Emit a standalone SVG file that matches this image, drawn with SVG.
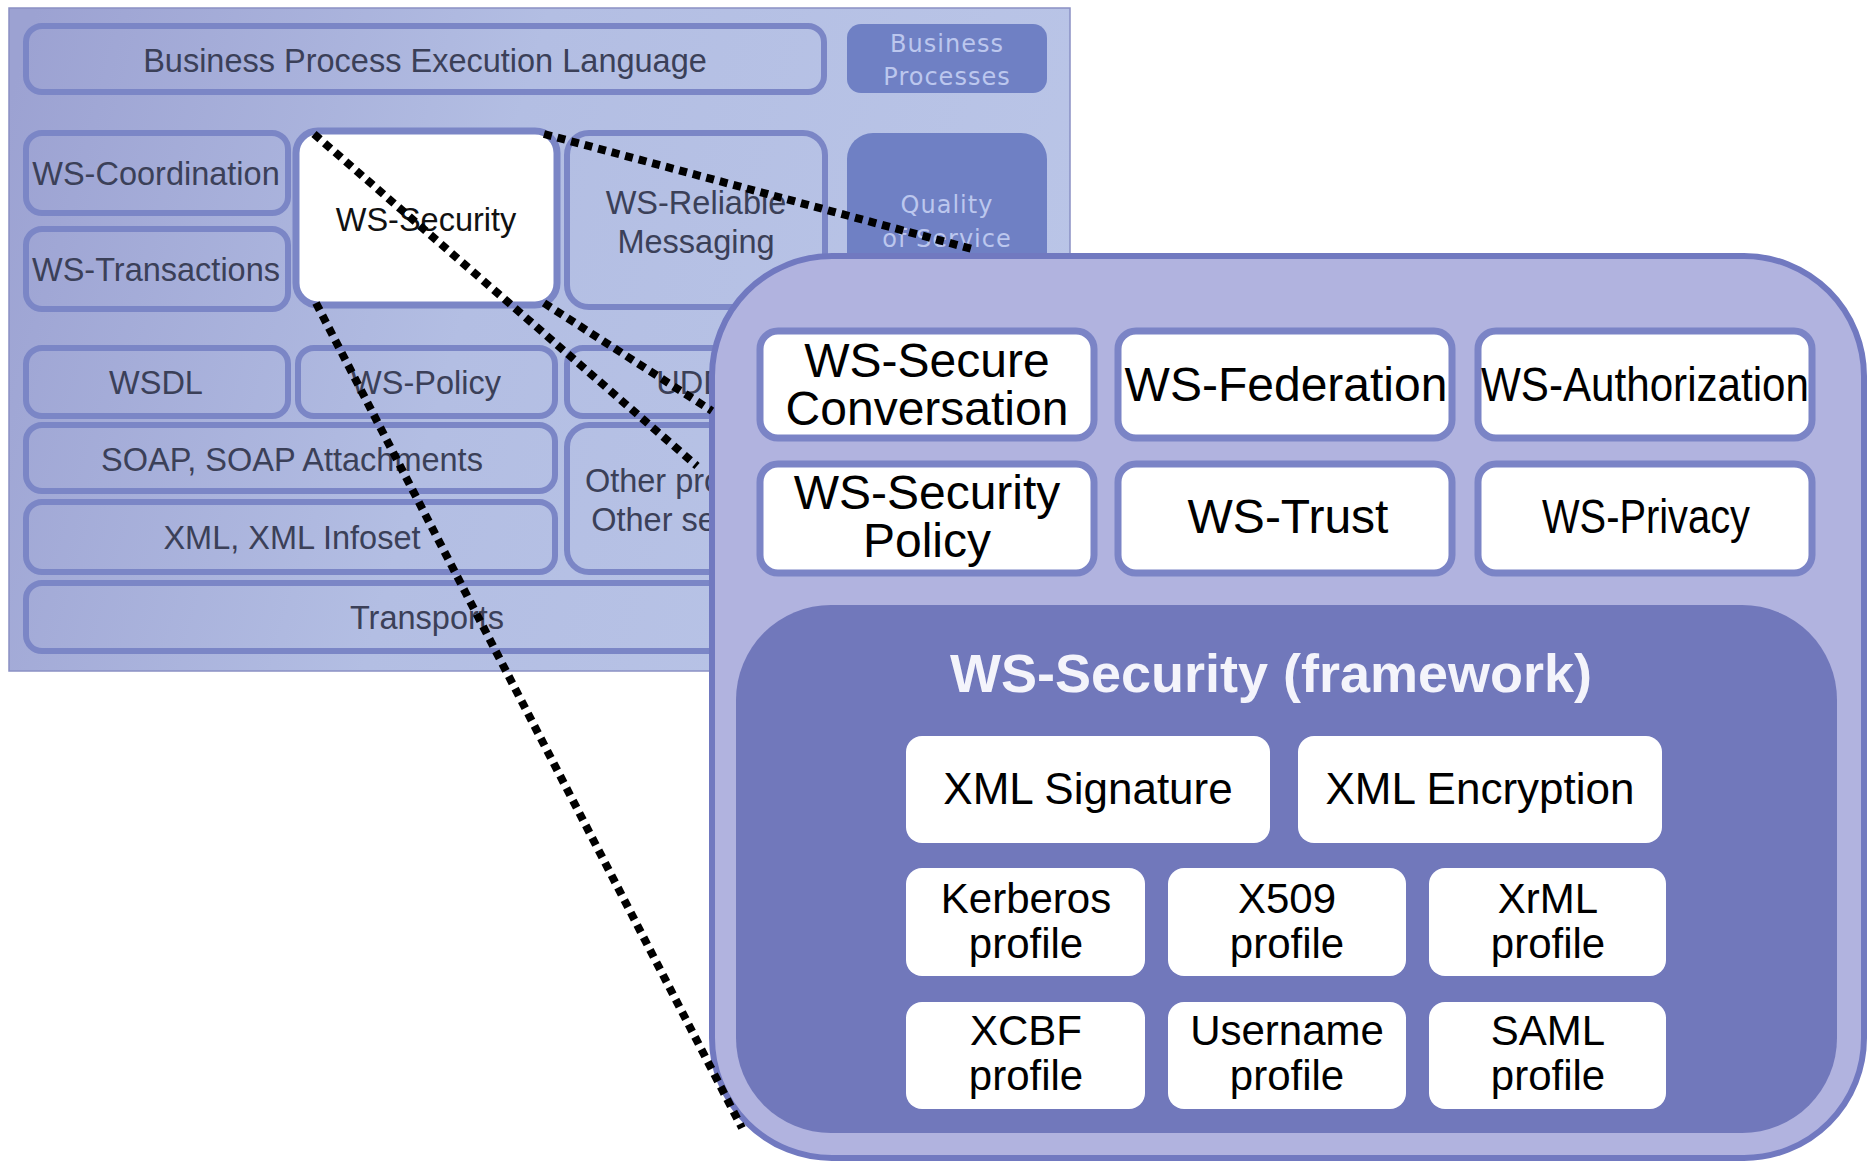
<svg xmlns="http://www.w3.org/2000/svg" width="1870" height="1164" viewBox="0 0 1870 1164">
<defs>
<linearGradient id="panelG" gradientUnits="userSpaceOnUse" x1="9" y1="100" x2="1070" y2="400">
<stop offset="0" stop-color="#9ca2d2"/>
<stop offset="0.45" stop-color="#b3bee3"/>
<stop offset="1" stop-color="#bac5e7"/>
</linearGradient>
<style>
.old{fill:none;stroke:#7b86c6;stroke-width:6}
.oldt{font-family:"Liberation Sans",Arial,sans-serif;font-size:32.5px;fill:#3b4058;text-anchor:middle}
.dark{fill:#6f80c4}
.darkt{font-family:"DejaVu Sans",sans-serif;font-size:24px;fill:#bcc7ee;text-anchor:middle;letter-spacing:1px}
.wb{fill:#ffffff;stroke:#7b84c6;stroke-width:7}
.wbt{font-family:"Liberation Sans",Arial,sans-serif;font-size:48px;fill:#000;text-anchor:middle}
.ib{fill:#ffffff}
.ibt{font-family:"Liberation Sans",Arial,sans-serif;font-size:42px;fill:#000;text-anchor:middle}
.dot{stroke:#000;stroke-width:8;stroke-dasharray:8 6;fill:none}
</style>
</defs>
<rect width="1870" height="1164" fill="#ffffff"/>
<g id="stack">
<rect x="9" y="8" width="1061" height="663" fill="url(#panelG)" stroke="#8a90c4" stroke-width="1.5"/>
<g id="bpel"><rect class="old" x="26" y="26" width="798" height="66" rx="16"/><text class="oldt" x="425" y="72">Business Process Execution Language</text></g>
<g id="bp"><rect class="dark" x="847" y="24" width="200" height="69" rx="14"/><text class="darkt" x="947" y="52">Business</text><text class="darkt" x="947" y="85">Processes</text></g>
<g id="qos"><rect class="dark" x="847" y="133" width="200" height="200" rx="26"/><text class="darkt" x="947" y="213">Quality</text><text class="darkt" x="947" y="247">of Service</text></g>
<g id="wscoord"><rect class="old" x="26" y="133" width="262" height="80" rx="16"/><text class="oldt" x="156" y="185">WS-Coordination</text></g>
<g id="wstrans"><rect class="old" x="26" y="229" width="262" height="80" rx="16"/><text class="oldt" x="156" y="281">WS-Transactions</text></g>
<g id="wssec"><rect x="296" y="131" width="261" height="174" rx="22" fill="#ffffff" stroke="#7b86c6" stroke-width="7"/><text class="oldt" x="426" y="231" style="fill:#111">WS-Security</text></g>
<g id="wsrel"><rect class="old" x="567" y="133" width="258" height="174" rx="22"/><text class="oldt" x="696" y="214">WS-Reliable</text><text class="oldt" x="696" y="253">Messaging</text></g>
<g id="wsdl"><rect class="old" x="26" y="348" width="262" height="68" rx="16"/><text class="oldt" x="156" y="394">WSDL</text></g>
<g id="wspol"><rect class="old" x="298" y="348" width="257" height="68" rx="16"/><text class="oldt" x="426" y="394">WS-Policy</text></g>
<g id="uddi"><rect class="old" x="567" y="348" width="258" height="68" rx="16"/><text class="oldt" x="696" y="394">UDDI</text></g>
<g id="soap"><rect class="old" x="26" y="425" width="529" height="66" rx="16"/><text class="oldt" x="292" y="471">SOAP, SOAP Attachments</text></g>
<g id="xml"><rect class="old" x="26" y="502" width="529" height="70" rx="16"/><text class="oldt" x="292" y="549">XML, XML Infoset</text></g>
<g id="other"><rect class="old" x="567" y="425" width="258" height="147" rx="22"/><text class="oldt" x="696" y="492">Other protocols</text><text class="oldt" x="696" y="531">Other services</text></g>
<g id="transports"><rect class="old" x="26" y="583" width="1010" height="68" rx="16"/><text class="oldt" x="427" y="629">Transports</text></g>
</g>
<g id="zoom">
<rect x="712" y="256" width="1152" height="902" rx="120" fill="#b1b3df" stroke="#7179c0" stroke-width="6"/>
<g id="wssc"><rect class="wb" x="760" y="331" width="334" height="107" rx="18"/><text class="wbt" x="927" y="377">WS-Secure</text><text class="wbt" x="927" y="425">Conversation</text></g>
<g id="wsfed"><rect class="wb" x="1118" y="331" width="334" height="107" rx="18"/><text class="wbt" x="1286" y="401">WS-Federation</text></g>
<g id="wsauth"><rect class="wb" x="1478" y="331" width="334" height="107" rx="18"/><text class="wbt" x="1645" y="401" textLength="328" lengthAdjust="spacingAndGlyphs">WS-Authorization</text></g>
<g id="wssp"><rect class="wb" x="760" y="464" width="334" height="109" rx="18"/><text class="wbt" x="927" y="509">WS-Security</text><text class="wbt" x="927" y="557">Policy</text></g>
<g id="wstrust"><rect class="wb" x="1118" y="464" width="334" height="109" rx="18"/><text class="wbt" x="1288" y="533">WS-Trust</text></g>
<g id="wspriv"><rect class="wb" x="1478" y="464" width="334" height="109" rx="18"/><text class="wbt" x="1646" y="533" textLength="208" lengthAdjust="spacingAndGlyphs">WS-Privacy</text></g>
<g id="framework">
<rect x="736" y="605" width="1101" height="528" rx="95" fill="#7178bb"/>
<text x="1271" y="692" font-family="Liberation Sans, Arial, sans-serif" font-size="54" font-weight="bold" fill="#f4f4fb" text-anchor="middle">WS-Security (framework)</text>
</g>
<g id="xmlsig"><rect class="ib" x="906" y="736" width="364" height="107" rx="16"/><text class="ibt" x="1088" y="804" style="font-size:44px">XML Signature</text></g>
<g id="xmlenc"><rect class="ib" x="1298" y="736" width="364" height="107" rx="16"/><text class="ibt" x="1480" y="804" style="font-size:44px">XML Encryption</text></g>
<g id="kerb"><rect class="ib" x="906" y="868" width="239" height="108" rx="16"/><text class="ibt" x="1026" y="913">Kerberos</text><text class="ibt" x="1026" y="958">profile</text></g>
<g id="x509"><rect class="ib" x="1168" y="868" width="238" height="108" rx="16"/><text class="ibt" x="1287" y="913">X509</text><text class="ibt" x="1287" y="958">profile</text></g>
<g id="xrml"><rect class="ib" x="1429" y="868" width="237" height="108" rx="16"/><text class="ibt" x="1548" y="913">XrML</text><text class="ibt" x="1548" y="958">profile</text></g>
<g id="xcbf"><rect class="ib" x="906" y="1002" width="239" height="107" rx="16"/><text class="ibt" x="1026" y="1045">XCBF</text><text class="ibt" x="1026" y="1090">profile</text></g>
<g id="user"><rect class="ib" x="1168" y="1002" width="238" height="107" rx="16"/><text class="ibt" x="1287" y="1045">Username</text><text class="ibt" x="1287" y="1090">profile</text></g>
<g id="saml"><rect class="ib" x="1429" y="1002" width="237" height="107" rx="16"/><text class="ibt" x="1548" y="1045">SAML</text><text class="ibt" x="1548" y="1090">profile</text></g>
</g>
<g id="connectors">
<line class="dot" x1="314" y1="134" x2="697" y2="466"/>
<line class="dot" x1="544" y1="134" x2="972" y2="249"/>
<line class="dot" x1="544" y1="303" x2="712" y2="411"/>
<line class="dot" x1="316" y1="303" x2="742" y2="1128"/>
</g>
</svg>
